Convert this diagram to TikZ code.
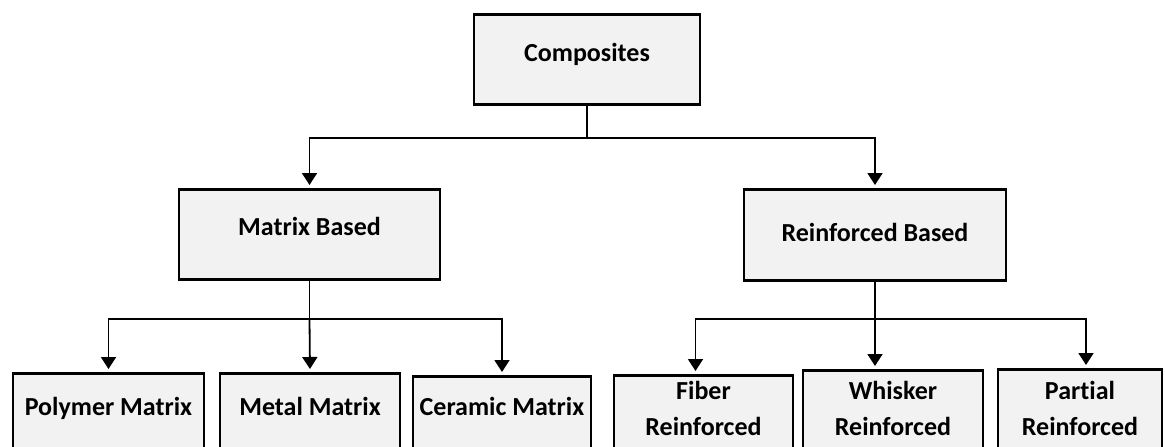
\documentclass[tikz,border=0pt]{standalone}
\usepackage{fontspec}
\setmainfont{Carlito}[Ligatures={NoCommon}]
\usetikzlibrary{arrows.meta}

\definecolor{boxfill}{HTML}{F2F2F2}

\tikzset{
  box/.style={draw, line width=2.6pt, fill=boxfill, anchor=north, inner sep=0pt,
    align=center, font=\fontsize{26}{36}\selectfont\bfseries},
  conn/.style={line width=1.8pt},
  arr/.style={conn, -{Triangle[width=15pt,length=12pt]}, shorten >=3pt},
}

\begin{document}
\begin{tikzpicture}[x=1pt,y=-1pt]

  \clip (0,0) rectangle (1165,447);

  % Define nodes
  \node[box, minimum width=226pt, text height=47pt, text depth=43pt] (comp) at (587,13) {Composites};
  \node[box, minimum width=261pt, text height=46pt, text depth=44pt] (matrix) at (309.5,188) {Matrix Based};
  \node[box, minimum width=262pt, text height=52pt, text depth=39pt] (reinf) at (875,188) {Reinforced Based};

  \node[box, minimum width=191pt, text height=42pt, text depth=90pt] (poly) at (108.5,372) {Polymer Matrix};
  \node[box, minimum width=180pt, text height=42pt, text depth=90pt] (metal) at (310,372) {Metal Matrix};
  \node[box, minimum width=178pt, text height=39pt, text depth=90pt] (ceramic) at (502,375) {Ceramic Matrix};

  \node[box, minimum width=179pt, text height=60pt, text depth=90pt] (fiber) at (703.5,374) {Fiber\\Reinforced};
  \node[box, minimum width=180pt, text height=65pt, text depth=90pt] (whisker) at (893,369) {Whisker\\Reinforced};
  \node[box, minimum width=164pt, text height=66pt, text depth=90pt] (partial) at (1080,368) {Partial\\Reinforced};

  % Connect the nodes
  \coordinate (csplit) at (587,138);
  \draw[conn] (comp.south) -- (csplit);
  \draw[arr] (csplit) -| (matrix.north);
  \draw[arr] (csplit) -| (reinf.north);

  \coordinate (msplit) at ([yshift=-38pt]matrix.south);
  \draw[conn] (matrix.south) -- (msplit);
  \draw[arr] (msplit) -| (poly.north);
  \draw[arr] (msplit) -- (metal.north);
  \draw[arr] (msplit) -| (ceramic.north);

  \coordinate (rsplit) at ([yshift=-37pt]reinf.south);
  \draw[conn] (reinf.south) -- (rsplit);
  \draw[arr] (rsplit) -| ([xshift=-8pt]fiber.north);
  \draw[arr] (rsplit) -- (rsplit |- whisker.north);
  \draw[arr] (rsplit) -| ([xshift=6pt]partial.north);

\end{tikzpicture}
\end{document}
